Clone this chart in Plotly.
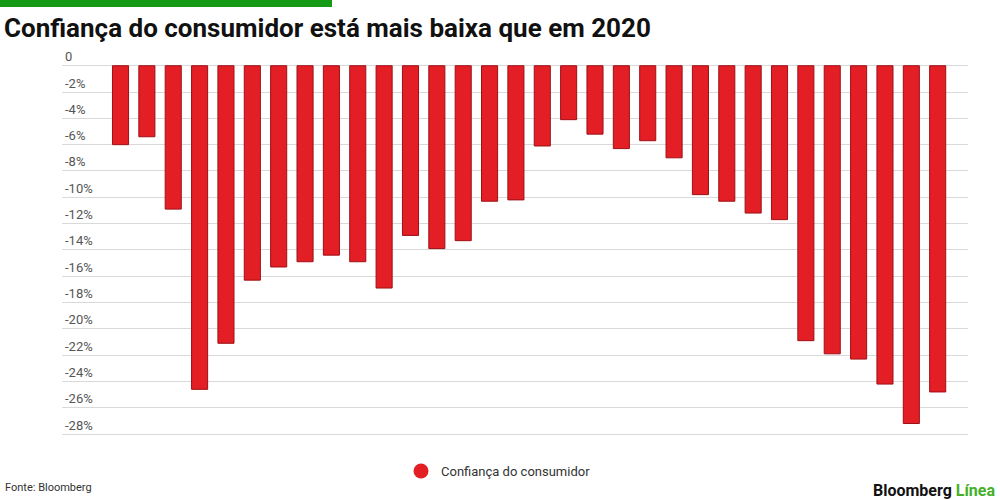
import plotly.graph_objects as go

# consumer confidence, one bar per period
periods = list(range(32))
confidence = [-6.0, -5.4, -10.9, -24.6, -21.1, -16.3, -15.3, -14.9, -14.4, -14.9,
              -16.9, -12.9, -13.9, -13.3, -10.3, -10.2, -6.1, -4.1, -5.2, -6.3,
              -5.7, -7.0, -9.8, -10.3, -11.2, -11.7, -20.9, -21.9, -22.3, -24.2,
              -27.2, -24.8]
tick_vals = list(range(0, -30, -2))
tick_text = ["0"] + [f"{v}%" for v in tick_vals[1:]]

W, H = 1000, 500
ml, mr, mt, mb = 62, 32, 36, 62
pw, ph = W - ml - mr, H - mt - mb

def px_x(x):
    return (x - ml) / pw

def px_y(y):
    return (H - mb - y) / ph

fig = go.Figure()
fig.add_trace(go.Bar(
    x=periods,
    y=confidence,
    marker=dict(color="#e31e24", line=dict(color="#9e1016", width=1)),
    showlegend=False,
    hovertemplate="%{y:.1f}%<extra></extra>",
))
# legend entry with round marker
fig.add_trace(go.Scatter(
    x=[None], y=[None], mode="markers",
    marker=dict(color="#e31e24", size=15, symbol="circle"),
    name="Confiança do consumidor",
))

fig.update_layout(
    width=W, height=H,
    margin=dict(l=ml, r=mr, t=mt, b=mb),
    paper_bgcolor="white",
    plot_bgcolor="white",
    font=dict(family="Roboto, Liberation Sans, sans-serif", color="#555555"),
    title=dict(
        text="<b>Confiança do consumidor está mais baixa que em 2020</b>",
        x=0.004, xanchor="left", xref="container",
        y=1 - 28 / H, yanchor="middle", yref="container",
        font=dict(size=26, color="#111111", family="Roboto, Liberation Sans, sans-serif"),
    ),
    bargap=0.39,
    xaxis=dict(range=[-2.22, 32.15], visible=False, showgrid=False, zeroline=False),
    yaxis=dict(
        range=[-28.30, 2.26],
        tickvals=tick_vals,
        ticktext=tick_text,
        ticklabelposition="inside top",
        tickfont=dict(size=13, color="#555555"),
        showgrid=True,
        gridcolor="#d9d9d9",
        gridwidth=1,
        zeroline=False,
        ticks="",
    ),
    legend=dict(
        orientation="h",
        xref="container", yref="container",
        x=0.401, xanchor="left",
        y=1 - 471 / H, yanchor="middle",
        font=dict(size=13, color="#333333"),
        itemsizing="trace",
    ),
    shapes=[dict(
        type="rect", xref="paper", yref="paper",
        x0=px_x(0), x1=px_x(332), y0=px_y(7), y1=px_y(0),
        fillcolor="#159a15", line=dict(width=0), layer="above",
    )],
    annotations=[
        dict(text="Fonte: Bloomberg", xref="paper", yref="paper",
             x=px_x(3), y=px_y(487), xanchor="left", yanchor="middle",
             showarrow=False, font=dict(size=11, color="#333333")),
        dict(text="<b>Bloomberg</b> <b><span style='color:#43b02a'>Línea</span></b>",
             xref="paper", yref="paper",
             x=px_x(997), y=px_y(490), xanchor="right", yanchor="middle",
             showarrow=False, font=dict(size=16, color="#111111")),
    ],
)

fig.write_html("out.html", config={"displayModeBar": False},
               post_script="document.body.style.margin='0';")
